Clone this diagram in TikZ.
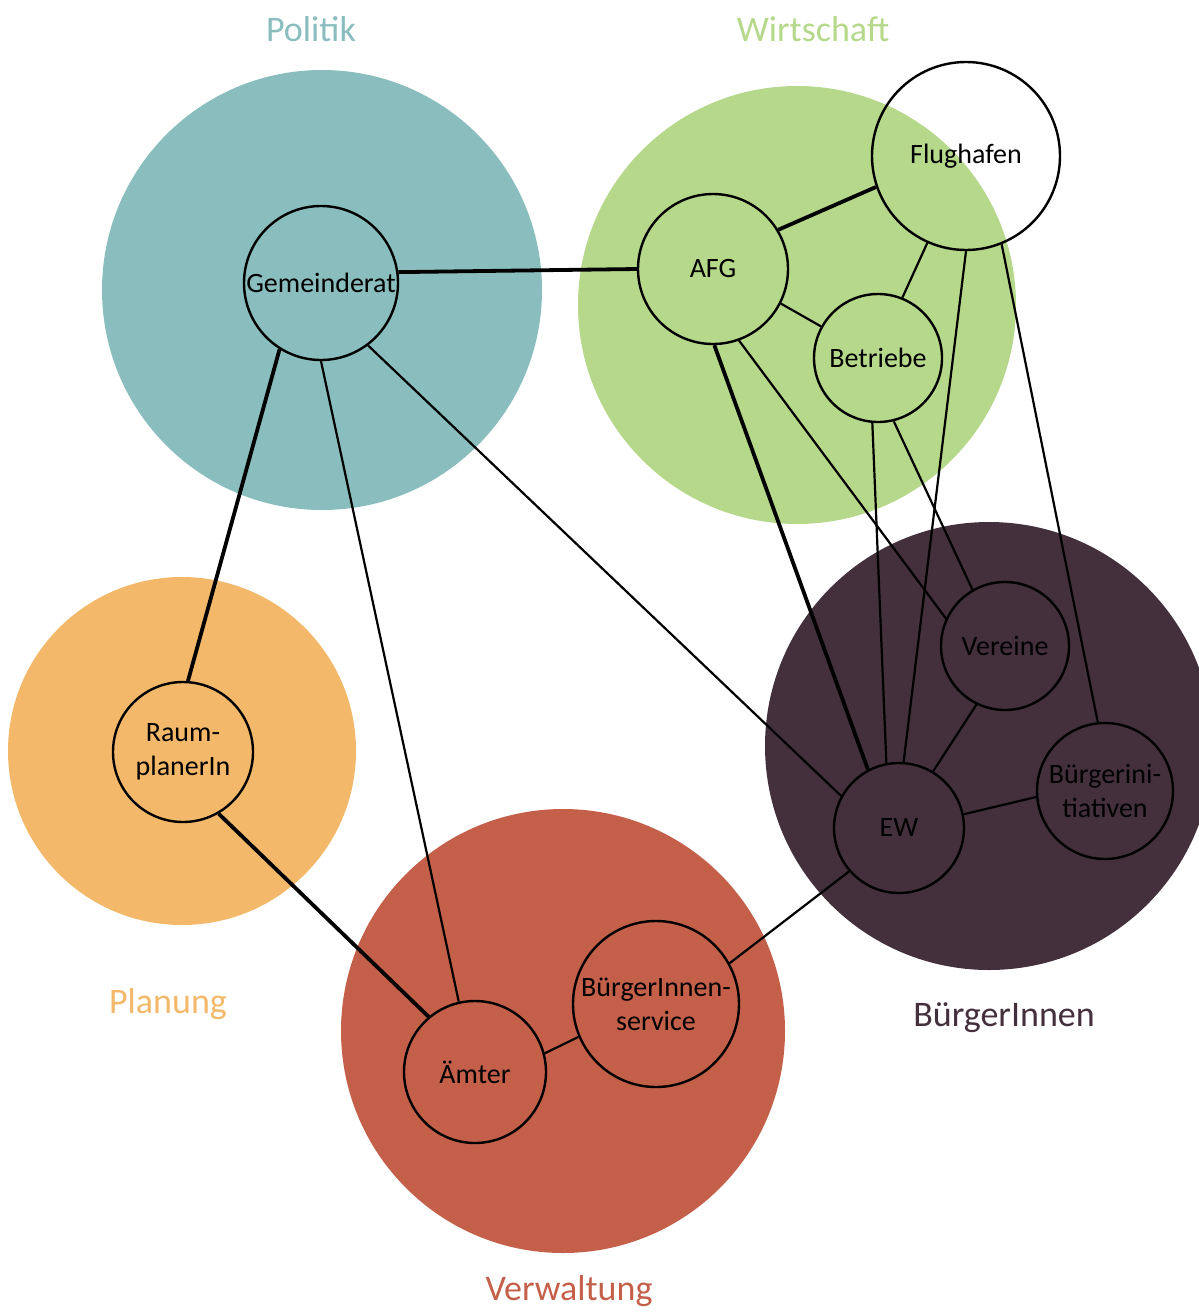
\documentclass[tikz,border=0pt]{standalone}
\usepackage{fontspec}
\setmainfont{Carlito}
\definecolor{politik}{HTML}{8ABDBE}
\definecolor{wirtschaft}{HTML}{B5D88A}
\definecolor{planung}{HTML}{F3B869}
\definecolor{verwaltung}{HTML}{C4604A}
\definecolor{buerger}{HTML}{43303C}
\begin{document}
\begin{tikzpicture}[x=0.5pt,y=-0.5pt,
  group/.style={circle,inner sep=0pt,minimum size=#1},
  actor/.style={circle,draw,line width=1.2pt,inner sep=0pt,minimum size=#1,
    font=\fontsize{14}{17}\selectfont,align=center},
  link/.style={line width=1.1pt},
  strong/.style={line width=1.9pt},
  grouplabel/.style={font=\fontsize{18}{20}\selectfont}]
\useasboundingbox (0,0) rectangle (1199,1312);
\clip (0,0) rectangle (1199,1312);
% group areas
\node[group=220pt,fill=politik] (gP) at (322,290) {};
\node[group=219pt,fill=wirtschaft] (gW) at (797,305) {};
\node[group=174pt,fill=planung] (gPl) at (182,751) {};
\node[group=222pt,fill=verwaltung] (gV) at (563,1031) {};
\node[group=224pt,fill=buerger] (gB) at (989,746) {};
% group labels
\node[grouplabel,text=politik] (lP) at (311,29) {Politik};
\node[grouplabel,text=wirtschaft] (lW) at (813,29) {Wirtschaft};
\node[grouplabel,text=planung] (lPl) at (168,1004) {Planung};
\node[grouplabel,text=verwaltung] (lV) at (569,1291) {Verwaltung};
\node[grouplabel,text=buerger] (lB) at (1004,1018) {BürgerInnen};
% actors
\node[actor=77pt] (gem) at (321,283) {Gemeinderat};
\node[actor=75pt] (afg) at (713,269) {AFG};
\node[actor=94pt] (flu) at (966,156) {Flughafen};
\node[actor=64pt] (bet) at (878,358) {Betriebe};
\node[actor=64pt] (ver) at (1005,646) {Vereine};
\node[actor=68pt] (bi) at (1105,791) {Bürgerini-\\tiativen};
\node[actor=65pt] (ew) at (899,828) {EW};
\node[actor=70pt] (rp) at (183,752) {Raum-\\planerIn};
\node[actor=71pt] (amt) at (475,1072) {Ämter};
\node[actor=83pt] (bis) at (656,1004) {BürgerInnen-\\service};
% connectors
\draw[strong] (gem.8) -- (afg.180);
\draw[strong] (afg.31) -- (flu.199);
\draw[link] (afg.-27.5) -- (bet.151);
\draw[link] (flu.246) -- (bet.68.5);
\draw[strong] (gem.238.5) -- (rp.86);
\draw[link] (gem.270) -- (amt.103);
\draw[link] (gem.-53) -- (ew.151);
\draw[strong] (rp.-60) -- (amt.130);
\draw[link] (amt.15.5) -- (bis.203);
\draw[link] (bis.29) -- (ew.221);
\draw[strong] (afg.271) -- (ew.118);
\draw[link] (afg.-70.6) -- (ver.155);
\draw[link] (bet.265.5) -- (ew.101);
\draw[link] (bet.-76) -- (ver.120);
\draw[link] (flu.270.6) -- (ew.86.5);
\draw[link] (flu.-68.5) -- (bi.96);
\draw[link] (ver.244) -- (ew.59);
\draw[link] (ew.12) -- (bi.185);
\end{tikzpicture}
\end{document}
